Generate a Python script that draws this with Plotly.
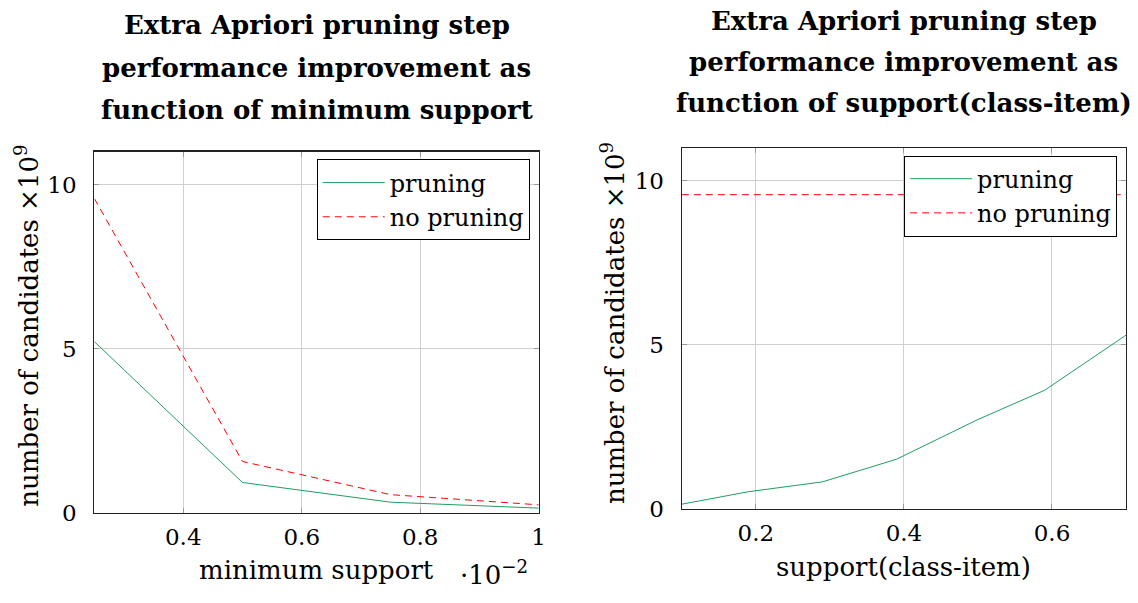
import plotly.graph_objects as go

# ---- data ----
min_support = [0.25, 0.5, 0.75, 1.0]                  # x 10^-2
left_pruning = [5.21, 0.92, 0.32, 0.14]               # x 10^9
left_no_pruning = [9.57, 1.56, 0.55, 0.24]

class_support = [0.1, 0.19, 0.29, 0.39, 0.5, 0.59, 0.7]
right_pruning = [0.14, 0.52, 0.82, 1.51, 2.72, 3.61, 5.29]
class_support_np = [0.1, 0.7]
right_no_pruning = [9.57, 9.57]

left_xticks = [0.4, 0.6, 0.8, 1.0]
left_xticklabels = ["0.4", "0.6", "0.8", "1"]
right_xticks = [0.2, 0.4, 0.6]
right_xticklabels = ["0.2", "0.4", "0.6"]
yticks = [0, 5, 10]
yticklabels = ["0", "5", "10"]

left_title = ["Extra Apriori pruning step", "performance improvement as",
              "function of minimum support"]
right_title = ["Extra Apriori pruning step", "performance improvement as",
               "function of support(class-item)"]

GREEN = "rgb(30,158,96)"
RED = "rgb(255,0,0)"
SERIF = "DejaVu Serif, Liberation Serif, serif"

W, H = 1138, 603

def px_x(p):
    return p / W

def px_y(p):
    return 1 - p / H

fig = go.Figure()

fig.add_trace(go.Scatter(x=min_support, y=left_pruning, mode="lines", name="pruning",
                         line=dict(color=GREEN, width=1), xaxis="x", yaxis="y", legend="legend"))
fig.add_trace(go.Scatter(x=min_support, y=left_no_pruning, mode="lines", name="no pruning",
                         line=dict(color=RED, width=1, dash="7px,5px"), xaxis="x", yaxis="y",
                         legend="legend"))
fig.add_trace(go.Scatter(x=class_support, y=right_pruning, mode="lines", name="pruning",
                         line=dict(color=GREEN, width=1), xaxis="x2", yaxis="y2", legend="legend2"))
fig.add_trace(go.Scatter(x=class_support_np, y=right_no_pruning, mode="lines", name="no pruning",
                         line=dict(color=RED, width=1, dash="7px,5px"), xaxis="x2", yaxis="y2",
                         legend="legend2"))

tickfont = dict(family=SERIF, size=23, color="black")
common_axis = dict(showline=True, linecolor="#222", linewidth=1.2, mirror="ticks",
                   ticks="inside", ticklen=5, tickcolor="#999", tickwidth=1,
                   showgrid=True, gridcolor="#d0d0d0", gridwidth=1,
                   zeroline=False, tickfont=tickfont, fixedrange=True)

# plot areas (screen pixels)
L = dict(x0=95, x1=542, top=155, bottom=524)
R = dict(x0=686, x1=1133, top=151, bottom=520)

legend_font = dict(family=SERIF, size=24, color="black")
fig.update_layout(
    width=W, height=H, margin=dict(l=0, r=0, t=0, b=0),
    paper_bgcolor="white", plot_bgcolor="white",
    font=dict(family=SERIF, color="black"),
    hovermode=False,
    xaxis=dict(domain=[px_x(L["x0"]), px_x(L["x1"])], range=[0.25, 1.0],
               tickvals=left_xticks, ticktext=left_xticklabels, anchor="y",
               ticklabelstandoff=3, **common_axis),
    yaxis=dict(domain=[px_y(L["bottom"]), px_y(L["top"])], range=[0, 11],
               tickvals=yticks, ticktext=yticklabels, anchor="x",
               ticklabelstandoff=12, **common_axis),
    xaxis2=dict(domain=[px_x(R["x0"]), px_x(R["x1"])], range=[0.1, 0.7],
                tickvals=right_xticks, ticktext=right_xticklabels, anchor="y2",
                ticklabelstandoff=3, **common_axis),
    yaxis2=dict(domain=[px_y(R["bottom"]), px_y(R["top"])], range=[0, 11],
                tickvals=yticks, ticktext=yticklabels, anchor="x2",
                ticklabelstandoff=12, **common_axis),
    legend=dict(x=px_x(533), y=px_y(163), xanchor="right", yanchor="top",
                bgcolor="white", bordercolor="black", borderwidth=1,
                itemwidth=62, font=legend_font),
    legend2=dict(x=px_x(1124), y=px_y(159), xanchor="right", yanchor="top",
                 bgcolor="white", bordercolor="black", borderwidth=1,
                 itemwidth=62, font=legend_font),
    showlegend=True,
)

ann = []
title_font = dict(family=SERIF, size=26, color="black")
for i, line in enumerate(left_title):
    ann.append(dict(text=f"<b>{line}</b>", x=px_x(318.5), y=px_y(26 + 43 * i),
                    xref="paper", yref="paper", xanchor="center", yanchor="middle",
                    showarrow=False, font=title_font))
for i, line in enumerate(right_title):
    ann.append(dict(text=f"<b>{line}</b>", x=px_x(909.5), y=px_y(21 + 42 * i),
                    xref="paper", yref="paper", xanchor="center", yanchor="middle",
                    showarrow=False, font=title_font))

label_font = dict(family=SERIF, size=26, color="black")
ann.append(dict(text="number of candidates ×10<sup>9</sup>", x=px_x(27), y=px_y(333),
                xref="paper", yref="paper", xanchor="center", yanchor="middle",
                textangle=-90, showarrow=False, font=label_font))
ann.append(dict(text="number of candidates ×10<sup>9</sup>", x=px_x(617), y=px_y(330),
                xref="paper", yref="paper", xanchor="center", yanchor="middle",
                textangle=-90, showarrow=False, font=label_font))
ann.append(dict(text="minimum support", x=px_x(318), y=px_y(583),
                xref="paper", yref="paper", xanchor="center", yanchor="middle",
                showarrow=False, font=label_font))
ann.append(dict(text="·10<sup>−2</sup>", x=px_x(497), y=px_y(586),
                xref="paper", yref="paper", xanchor="center", yanchor="middle",
                showarrow=False, font=label_font))
ann.append(dict(text="support(class-item)", x=px_x(909), y=px_y(580),
                xref="paper", yref="paper", xanchor="center", yanchor="middle",
                showarrow=False, font=label_font))
fig.update_layout(annotations=ann)

fig.write_html("out.html", config={"displayModeBar": False, "staticPlot": True},
               post_script="document.body.style.margin='0';document.body.style.overflow='hidden';")
